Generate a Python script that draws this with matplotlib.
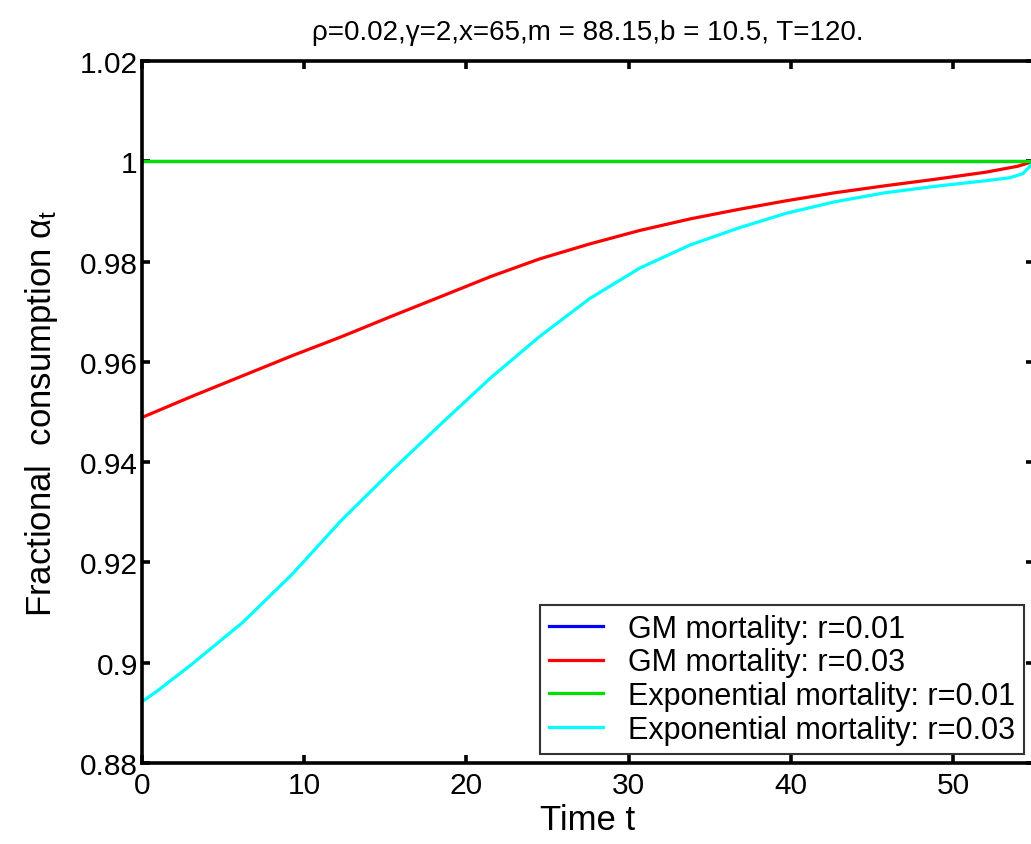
import numpy as np
import matplotlib
matplotlib.use("Agg")
import matplotlib.pyplot as plt

plt.rcParams['font.family'] = ['Liberation Sans', 'DejaVu Sans']
plt.rcParams['mathtext.fontset'] = 'custom'
plt.rcParams['mathtext.rm'] = 'Liberation Sans'
plt.rcParams['mathtext.it'] = 'Liberation Sans'

# GM mortality, r=0.01 and exponential mortality, r=0.01 (flat at 1)
t_flat = [0, 55]
gm_r001 = [1.0, 1.0]
exp_r001 = [1.0, 1.0]

# GM mortality, r=0.03
t_gm = [0, 3, 6.2, 9.25, 12.3, 15.4, 18.5, 21.5, 24.5, 27.6, 30.7, 33.8,
        36.8, 39.7, 42.7, 45.8, 48.9, 52, 54, 55]
gm_r003 = [0.9489, 0.9530, 0.9572, 0.9612, 0.9650, 0.9691, 0.9731, 0.9770,
           0.9805, 0.9835, 0.9862, 0.9885, 0.9904, 0.9921, 0.9937, 0.9951,
           0.9964, 0.9978, 0.9990, 1.0]

# exponential mortality, r=0.03
t_exp = [0, 1.0, 3, 6.2, 9.25, 12.3, 15.4, 18.5, 21.5, 24.5, 27.6, 30.7,
         33.8, 36.8, 39.7, 42.7, 45.8, 48.9, 52, 53.5, 54.3, 54.7, 55]
exp_r003 = [0.8922, 0.8945, 0.8995, 0.9080, 0.9176, 0.9284, 0.9383, 0.9478,
            0.9568, 0.9650, 0.9726, 0.9787, 0.9833, 0.9867, 0.9896, 0.9919,
            0.9937, 0.9950, 0.9961, 0.9967, 0.9975, 0.9988, 1.0]

fig = plt.figure(figsize=(10.31, 8.45), dpi=100)
ax = fig.add_axes([0.1377, 0.0959, 0.8652, 0.8308])

lw = 2.3
ax.plot(t_flat, gm_r001, color='#0000ff', lw=lw, label='GM mortality: r=0.01')
ax.plot(t_gm, gm_r003, color='#ff0000', lw=lw, label='GM mortality: r=0.03')
ax.plot(t_flat, exp_r001, color='#00e000', lw=lw, label='Exponential mortality: r=0.01')
ax.plot(t_exp, exp_r003, color='#00ffff', lw=lw, label='Exponential mortality: r=0.03')

ax.set_xlim(0, 55)
ax.set_ylim(0.88, 1.02)
ax.set_xticks([0, 10, 20, 30, 40, 50])
ax.set_yticks([0.88, 0.9, 0.92, 0.94, 0.96, 0.98, 1.0, 1.02])
ax.set_yticklabels(['0.88', '0.9', '0.92', '0.94', '0.96', '0.98', '1', '1.02'])

for s in ax.spines.values():
    s.set_linewidth(2.6)
    s.set_color('black')
ax.tick_params(direction='in', length=6, width=2.6, labelsize=21.5,
               top=True, right=True)
ax.tick_params(axis='x', pad=6)
ax.tick_params(axis='y', pad=3)

ax.set_xlabel('Time t', fontsize=25, labelpad=3)
ax.set_ylabel(r'Fractional  consumption $\alpha_t$', fontsize=25, labelpad=14)
ax.set_title('\u03c1=0.02,\u03b3=2,x=65,m = 88.15,b = 10.5, T=120.', fontsize=20, pad=16)

leg = ax.legend(loc='lower right', bbox_to_anchor=(0.989, 0.013), borderaxespad=0,
                fontsize=22, handlelength=1.77, handletextpad=0.8,
                labelspacing=0.12, borderpad=0.3, fancybox=False)
leg.get_frame().set_edgecolor('black')
leg.get_frame().set_linewidth(1.5)

fig.savefig('out.png', dpi=100)
